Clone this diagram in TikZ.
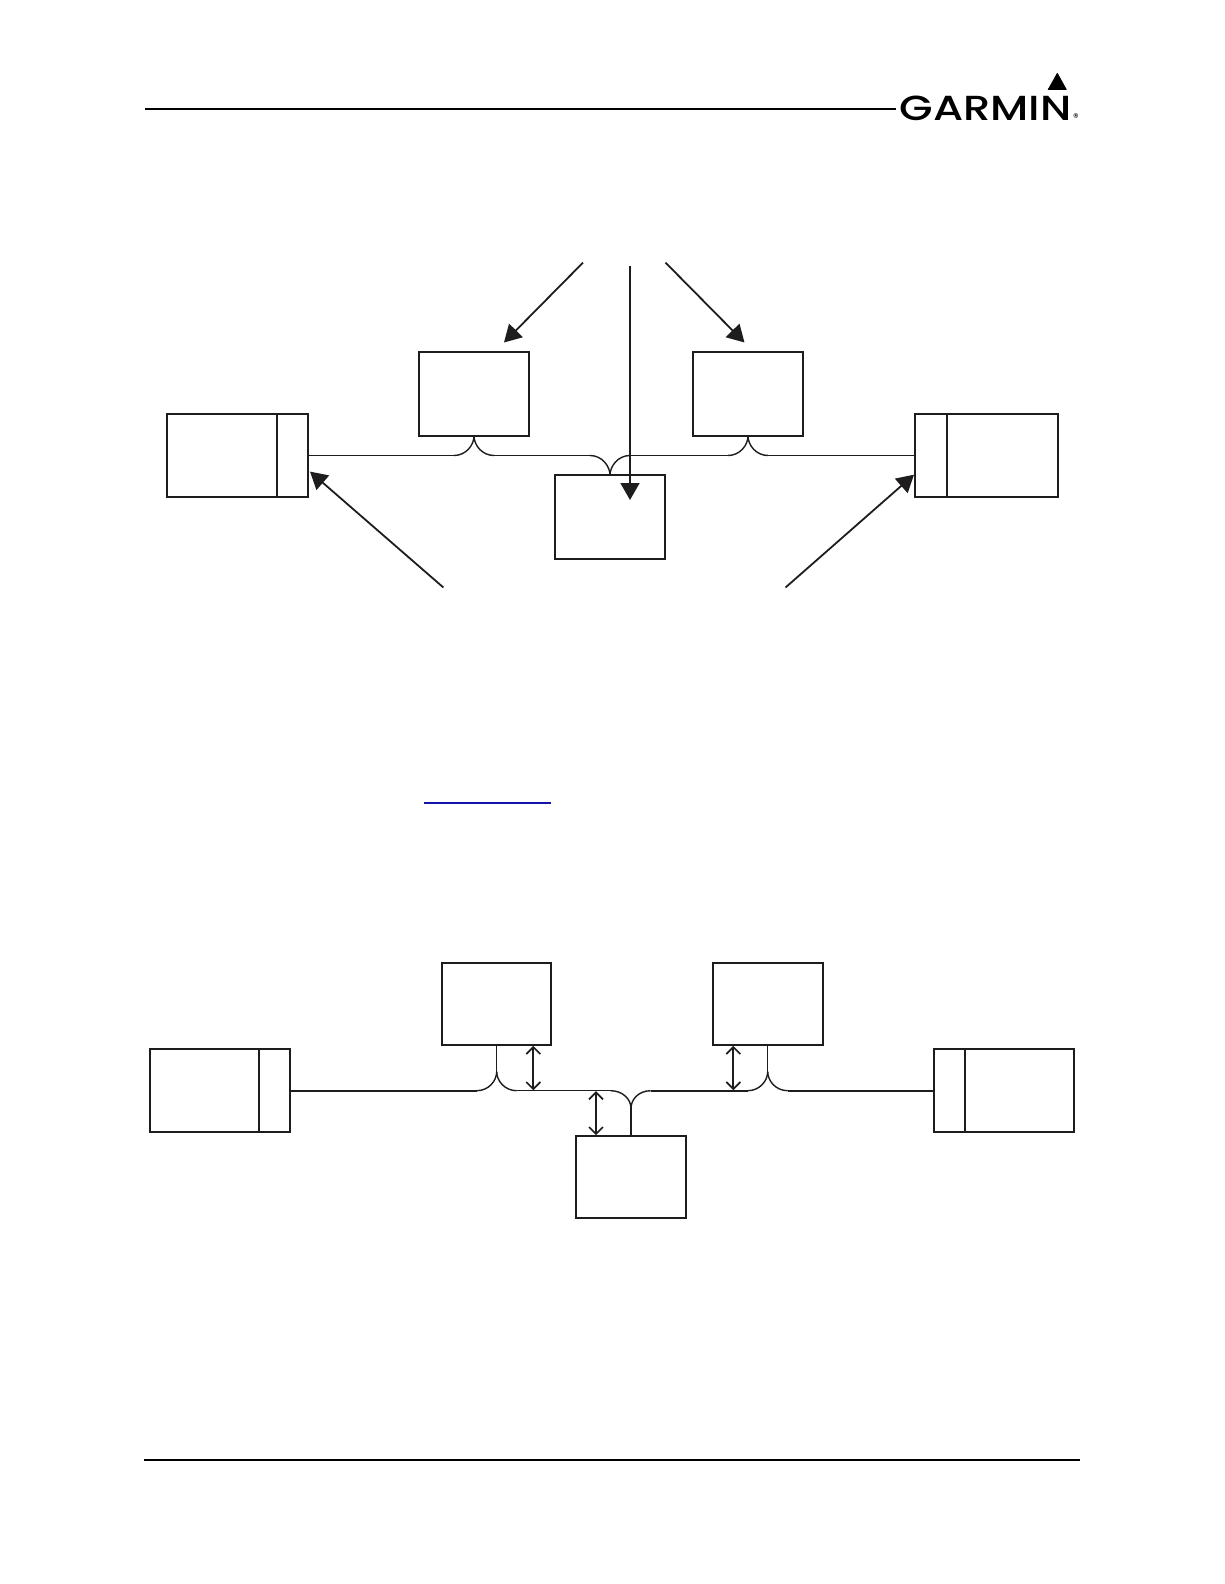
\documentclass[tikz,border=0pt]{standalone}
\usepackage{fontspec}
\setmainfont{Poppins}
\newfontfamily\logofont{Poppins Medium}
\usetikzlibrary{arrows.meta,calc}
\definecolor{ink}{RGB}{30,28,29}
\definecolor{linkblue}{RGB}{20,20,170}
\tikzset{
  x=1pt,y=-1pt,
  unitbox/.style={draw=ink,line width=2pt,inner sep=0pt,outer sep=0pt,fill=white},
  lbox/.style={unitbox,minimum width=110.6pt,minimum height=84pt},
  mbox/.style={unitbox,minimum width=109.6pt,minimum height=82.6pt},
  thinbus/.style={draw=ink,line width=1.2pt},
  curve/.style={draw=ink,line width=1.4pt},
  thickbus/.style={draw=ink,line width=2.1pt},
  stem/.style={draw=ink,line width=1.5pt},
  rule/.style={draw=black,line width=2.2pt},
  pointer/.style={draw=ink,line width=1.8pt,-{Triangle[length=17pt,width=19pt]}},
  between/.style={draw=ink,line width=1.7pt,{Straight Barb[length=7pt,width=14pt]}-{Straight Barb[length=7pt,width=14pt]},shorten <=0.5pt,shorten >=0.5pt},
}
\begin{document}
\begin{tikzpicture}
\useasboundingbox (0,0) rectangle (1224,1584);
% header / footer
\coordinate (hl) at (145,109.2); \coordinate (hr) at (896,109.2);
\coordinate (fl) at (144,1460); \coordinate (fr) at (1080,1460);
\draw[rule] (hl) -- (hr);
\draw[rule] (fl) -- (fr);
% logo
\fill[black,rounded corners=0.6pt] (1057.3,72.5) -- (1067,90) -- (1047.5,90) -- cycle;
\node[anchor=base west,inner sep=0pt,outer sep=0pt,text=black] (logo) at (899.5,120.7)
  {\resizebox{172pt}{24.5pt}{\logofont GARMIN}};
\node[anchor=center,inner sep=0pt,text=black,font=\fontsize{11}{11}\selectfont] (reg) at (1076,117.5) {®};
% top diagram
\node[lbox] (A) at (474,394) {};
\node[lbox] (B) at (748,394) {};
\node[lbox,minimum height=83.8pt] (C) at (610,517.1) {};
\node[lbox,minimum width=110.4pt,minimum height=83pt] (U1) at (221.8,455.8) {};
\node[lbox,minimum width=31pt,minimum height=83pt] (T1) at (292.5,455.8) {};
\node[lbox,minimum width=32pt,minimum height=83pt] (T2) at (931,455.8) {};
\node[lbox,minimum width=110.5pt,minimum height=83pt] (U2) at (1002.25,455.8) {};
% bus
\path[thinbus] (T1.east) ++(0,-0.3) -- ++(146,0) coordinate (a1);
\path[thinbus] (A.south) ++(20,19.5) coordinate (a2) -- ++(96,0) coordinate (c1);
\path[thinbus] (C.north) ++(20,-19.7) coordinate (c2) -- ++(98,0) coordinate (b1);
\path[thinbus] (B.south) ++(20,19.5) coordinate (b2) -- (T2.west |- b2);
\path[curve] (a1) .. controls +(12,0) and ($(A.south)+(0,9)$) .. (A.south);
\path[curve] (a2) .. controls +(-12,0) and ($(A.south)+(0,9)$) .. (A.south);
\path[curve] (c1) .. controls +(12,0) and ($(C.north)+(0,-9)$) .. (C.north);
\path[curve] (c2) .. controls +(-12,0) and ($(C.north)+(0,-9)$) .. (C.north);
\path[curve] (b1) .. controls +(12,0) and ($(B.south)+(0,9)$) .. (B.south);
\path[curve] (b2) .. controls +(-12,0) and ($(B.south)+(0,9)$) .. (B.south);
% pointers
\coordinate (pa) at (583,262.6); \coordinate (pat) at (504,342.5);
\coordinate (pb) at (665.5,262.6); \coordinate (pbt) at (744.5,342.5);
\coordinate (pc) at (630,265.6); \coordinate (pct) at (630,500);
\coordinate (pd) at (443.4,587.5); \coordinate (pdt) at (310,471.6);
\coordinate (pe) at (785.5,587.5); \coordinate (pet) at (914,474.7);
\draw[pointer] (pa) -- (pat);
\draw[pointer] (pb) -- (pbt);
\draw[pointer] (pc) -- (pct);
\draw[pointer] (pd) -- (pdt);
\draw[pointer] (pe) -- (pet);
% link underline
\coordinate (ll) at (424.3,803); \coordinate (lr) at (551,803);
\draw[linkblue,line width=1.2pt] (ll) -- (lr);
% bottom diagram
\node[mbox] (D) at (496.6,1003.9) {};
\node[mbox] (E) at (767.85,1003.9) {};
\node[mbox] (F) at (631,1176.85) {};
\node[mbox,minimum width=108.8pt] (V1) at (204.4,1090.5) {};
\node[mbox,minimum width=31.5pt] (S1) at (274.4,1090.5) {};
\node[mbox,minimum width=30.5pt] (S2) at (949.6,1090.5) {};
\node[mbox] (V2) at (1019.6,1090.5) {};
\coordinate (dj) at (496.7,1071.7);
\coordinate (ej) at (767.7,1071.7);
\coordinate (fj) at (631,1108.3);
\coordinate (d1) at (476.7,1090.7); \coordinate (d2) at (516.7,1090.7);
\coordinate (f1) at (610.7,1090.7); \coordinate (f2) at (650.7,1090.7);
\coordinate (e1) at (747.7,1090.7); \coordinate (e2) at (787.7,1090.7);
\path[thickbus] (S1.east |- d1) -- (d1);
\path[thinbus] (d2) -- (f1);
\path[thickbus] (f2) -- (e1);
\path[thickbus] (e2) -- (S2.west |- e2);
\path[curve] (d1) .. controls +(12,0) and ($(dj)+(0,9)$) .. (dj);
\path[curve] (d2) .. controls +(-12,0) and ($(dj)+(0,9)$) .. (dj);
\path[curve] (e1) .. controls +(12,0) and ($(ej)+(0,9)$) .. (ej);
\path[curve] (e2) .. controls +(-12,0) and ($(ej)+(0,9)$) .. (ej);
\path[curve] (f1) .. controls +(12,0) and ($(fj)+(0,-9)$) .. (fj);
\path[curve] (f2) .. controls +(-12,0) and ($(fj)+(0,-9)$) .. (fj);
\path[stem] (D.south -| dj) -- (dj);
\path[stem] (E.south -| ej) -- (ej);
\path[stem] (fj) -- (F.north -| fj);
\coordinate (g1) at (533.3,1045.3); \coordinate (g2) at (533.3,1090.7);
\coordinate (g3) at (733.3,1045.3); \coordinate (g4) at (733.3,1090.7);
\coordinate (g5) at (596,1090.7); \coordinate (g6) at (596,1135.7);
\draw[between] (g1) -- (g2);
\draw[between] (g3) -- (g4);
\draw[between] (g5) -- (g6);
\end{tikzpicture}
\end{document}
